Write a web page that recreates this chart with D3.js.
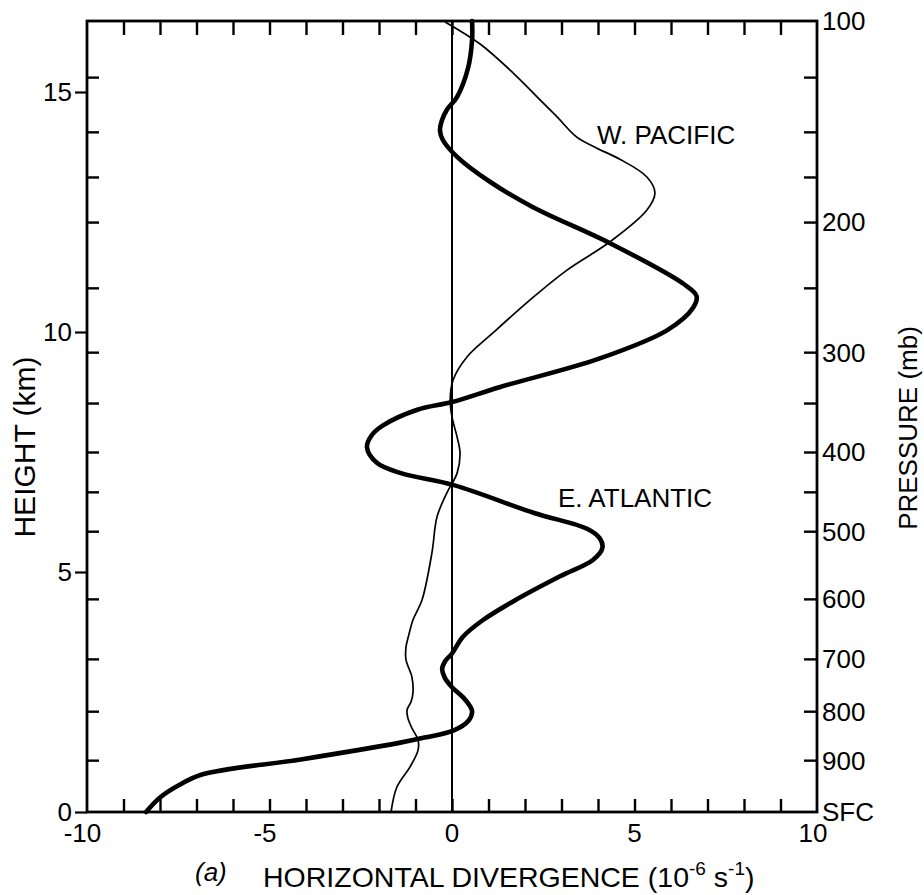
<!DOCTYPE html>
<html>
<head>
<meta charset="utf-8">
<script src="https://cdn.jsdelivr.net/npm/d3@7"></script>
<style>
  html, body { margin: 0; padding: 0; background: #fff; }
  svg { display: block; }
  text { font-family: "Liberation Sans", Arial, sans-serif; fill: #000; }
</style>
</head>
<body>
<svg id="chart" width="924" height="895"></svg>
<script>
// ---- Data ----
// E. Atlantic (thick) : height (km) and divergence (1e-6 s^-1)
const eaHeight = [0, 0.3, 0.55, 0.78, 1.1, 1.44, 1.55, 1.7, 1.9, 2.1, 2.35, 2.6, 2.8, 2.98, 3.15, 3.3, 3.65, 4.0, 4.42, 4.91, 5.25, 5.5, 5.7, 5.9, 6.23, 6.81, 7.06, 7.27, 7.6, 7.85, 8.05, 8.38, 8.54, 8.85, 9.45, 10.04, 10.5, 10.75, 11.0, 11.85, 12.6, 13.13, 13.65, 14.0, 14.2, 14.4, 14.63, 14.9, 15.5, 16.08, 16.48];
const eaDiv    = [-8.38, -8.0, -7.5, -6.85, -4.1, -1.45, -0.75, 0.05, 0.45, 0.55, 0.35, 0.0, -0.2, -0.27, -0.18, 0.0, 0.3, 0.85, 1.75, 2.96, 3.86, 4.12, 4.05, 3.7, 2.25, 0.05, -1.4, -2.05, -2.33, -2.2, -1.9, -0.95, 0.0, 1.3, 4.05, 5.9, 6.6, 6.7, 6.35, 4.33, 2.22, 1.04, 0.14, -0.25, -0.33, -0.28, -0.14, 0.14, 0.44, 0.55, 0.55];
// W. Pacific (thin)
const wpHeight = [0, 0.52, 0.94, 1.29, 1.5, 1.75, 1.96, 2.13, 2.3, 2.48, 2.82, 3.17, 3.44, 3.7, 4.0, 4.42, 5.4, 6.15, 6.65, 7.06, 7.48, 7.81, 8.23, 8.58, 9.0, 9.48, 9.98, 10.67, 11.29, 11.88, 12.54, 12.9, 13.23, 13.6, 13.83, 14.06, 14.48, 14.9, 15.4, 16.0, 16.46];
const wpDiv    = [-1.67, -1.51, -1.15, -0.93, -0.93, -1.1, -1.21, -1.23, -1.12, -1.07, -1.1, -1.26, -1.26, -1.18, -1.07, -0.82, -0.55, -0.41, -0.14, 0.14, 0.22, 0.14, 0.0, -0.05, 0.03, 0.41, 1.12, 2.14, 3.15, 4.33, 5.34, 5.56, 5.34, 4.6, 3.97, 3.42, 2.88, 2.33, 1.67, 0.77, -0.19];

const xTickLabels = [-10, -5, 0, 5, 10];
const xMinorTicks = [-9, -8, -7, -6, -5, -4, -3, -2, -1, 0, 1, 2, 3, 4, 5, 6, 7, 8, 9];
const heightTickLabels = [0, 5, 10, 15];
const pressureLevels  = ["100", "125", "150", "175", "200", "250", "300", "350", "400", "450", "500", "600", "700", "800", "900", "SFC"];
const pressureHeights = [16.48, 15.31, 14.17, 13.23, 12.29, 10.92, 9.58, 8.52, 7.50, 6.67, 5.85, 4.44, 3.19, 2.10, 1.08, 0];
const pressureLabelled = ["100", "200", "300", "400", "500", "600", "700", "800", "900", "SFC"];

const seriesLabels = ["W. PACIFIC", "E. ATLANTIC"];

// ---- Layout ----
const svg = d3.select("#chart");
const mLeft = 87, mRight = 817, mTop = 21, mBottom = 812;
const x = d3.scaleLinear().domain([-10, 10]).range([mLeft, mRight]);
const y = d3.scaleLinear().domain([0, (mBottom - mTop) / 48]).range([mBottom, mTop]);

const g = svg.append("g");

// zero line
g.append("line")
  .attr("x1", x(0)).attr("x2", x(0))
  .attr("y1", y.range()[1]).attr("y2", y.range()[0])
  .attr("stroke", "#000").attr("stroke-width", 2);

// curves
const line = d3.line().curve(d3.curveCatmullRom.alpha(0.5));
const wpPts = wpHeight.map((h, i) => [x(wpDiv[i]), y(h)]);
const eaPts = eaHeight.map((h, i) => [x(eaDiv[i]), y(h)]);

g.append("path").attr("d", line(wpPts))
  .attr("fill", "none").attr("stroke", "#000").attr("stroke-width", 1.7)
  .attr("stroke-linejoin", "round");
g.append("path").attr("d", line(eaPts))
  .attr("fill", "none").attr("stroke", "#000").attr("stroke-width", 4.6)
  .attr("stroke-linejoin", "round").attr("stroke-linecap", "round");

// frame
g.append("rect")
  .attr("x", mLeft).attr("y", mTop)
  .attr("width", mRight - mLeft).attr("height", mBottom - mTop)
  .attr("fill", "none").attr("stroke", "#000").attr("stroke-width", 2.8);

// bottom axis: inward ticks + labels
const xAxisB = d3.axisBottom(x).tickValues(xMinorTicks).tickSize(-13).tickFormat("");
const gb = g.append("g").attr("transform", `translate(0,${mBottom})`).call(xAxisB);
gb.select(".domain").remove();
gb.selectAll(".tick line").attr("stroke", "#000").attr("stroke-width", 2.4);

g.selectAll("text.xlab").data(xTickLabels).enter().append("text")
  .attr("class", "xlab")
  .attr("x", d => x(d) - (d < 0 ? 4.5 : (d === 10 ? 4 : 0)))
  .attr("y", 842)
  .attr("text-anchor", "middle")
  .attr("font-size", 26)
  .text(d => String(d));

// top axis: inward ticks
const xAxisT = d3.axisTop(x).tickValues(xMinorTicks).tickSize(-14).tickFormat("");
const gt = g.append("g").attr("transform", `translate(0,${mTop})`).call(xAxisT);
gt.select(".domain").remove();
gt.selectAll(".tick line").attr("stroke", "#000").attr("stroke-width", 2.4);

// left axis: inward pressure ticks
const innerP = pressureHeights.filter((h, i) => pressureLevels[i] !== "100" && pressureLevels[i] !== "SFC");
const yAxisLIn = d3.axisLeft(y).tickValues(innerP).tickSize(-12).tickFormat("");
const gl = g.append("g").attr("transform", `translate(${mLeft},0)`).call(yAxisLIn);
gl.select(".domain").remove();
gl.selectAll(".tick line").attr("stroke", "#000").attr("stroke-width", 2.4);

// left axis: outward height ticks with labels
const yAxisLOut = d3.axisLeft(y).tickValues(heightTickLabels).tickSize(12).tickPadding(3).tickFormat(d => String(d));
const glo = g.append("g").attr("transform", `translate(${mLeft},0)`).call(yAxisLOut);
glo.select(".domain").remove();
glo.selectAll(".tick line").attr("stroke", "#000").attr("stroke-width", 2.2);
glo.selectAll(".tick text").attr("font-size", 26).attr("font-family", "Liberation Sans, Arial, sans-serif").attr("fill", "#000");

// right axis: inward pressure ticks
const yAxisR = d3.axisRight(y).tickValues(innerP).tickSize(-13).tickFormat("");
const gr = g.append("g").attr("transform", `translate(${mRight},0)`).call(yAxisR);
gr.select(".domain").remove();
gr.selectAll(".tick line").attr("stroke", "#000").attr("stroke-width", 2.4);

// right axis labels
g.selectAll("text.plab").data(pressureLabelled).enter().append("text")
  .attr("class", "plab")
  .attr("x", mRight + 5)
  .attr("y", d => y(pressureHeights[pressureLevels.indexOf(d)]))
  .attr("dy", "0.36em")
  .attr("font-size", 26)
  .text(d => d);

// axis titles
svg.append("text")
  .attr("transform", `translate(35,447) rotate(-90)`)
  .attr("text-anchor", "middle")
  .attr("font-size", 30)
  .text("HEIGHT (km)");

svg.append("text")
  .attr("transform", `translate(917,428) rotate(-90)`)
  .attr("text-anchor", "middle")
  .attr("font-size", 26)
  .text("PRESSURE (mb)");

svg.append("text")
  .attr("x", 195).attr("y", 881)
  .attr("font-family", "Liberation Serif, serif")
  .attr("font-style", "italic")
  .attr("font-size", 26)
  .text("(a)");

const title = svg.append("text")
  .attr("x", 263).attr("y", 887)
  .attr("font-size", 28.5);
title.append("tspan").text("HORIZONTAL DIVERGENCE (10");
title.append("tspan").attr("font-size", 19).attr("dy", -12).text("-6");
title.append("tspan").attr("dy", 12).text(" s");
title.append("tspan").attr("font-size", 19).attr("dy", -12).text("-1");
title.append("tspan").attr("dy", 12).text(")");

// series labels
svg.append("text").attr("x", 597).attr("y", 144).attr("font-size", 26).text(seriesLabels[0]);
svg.append("text").attr("x", 558).attr("y", 507).attr("font-size", 26).text(seriesLabels[1]);
</script>
</body>
</html>
